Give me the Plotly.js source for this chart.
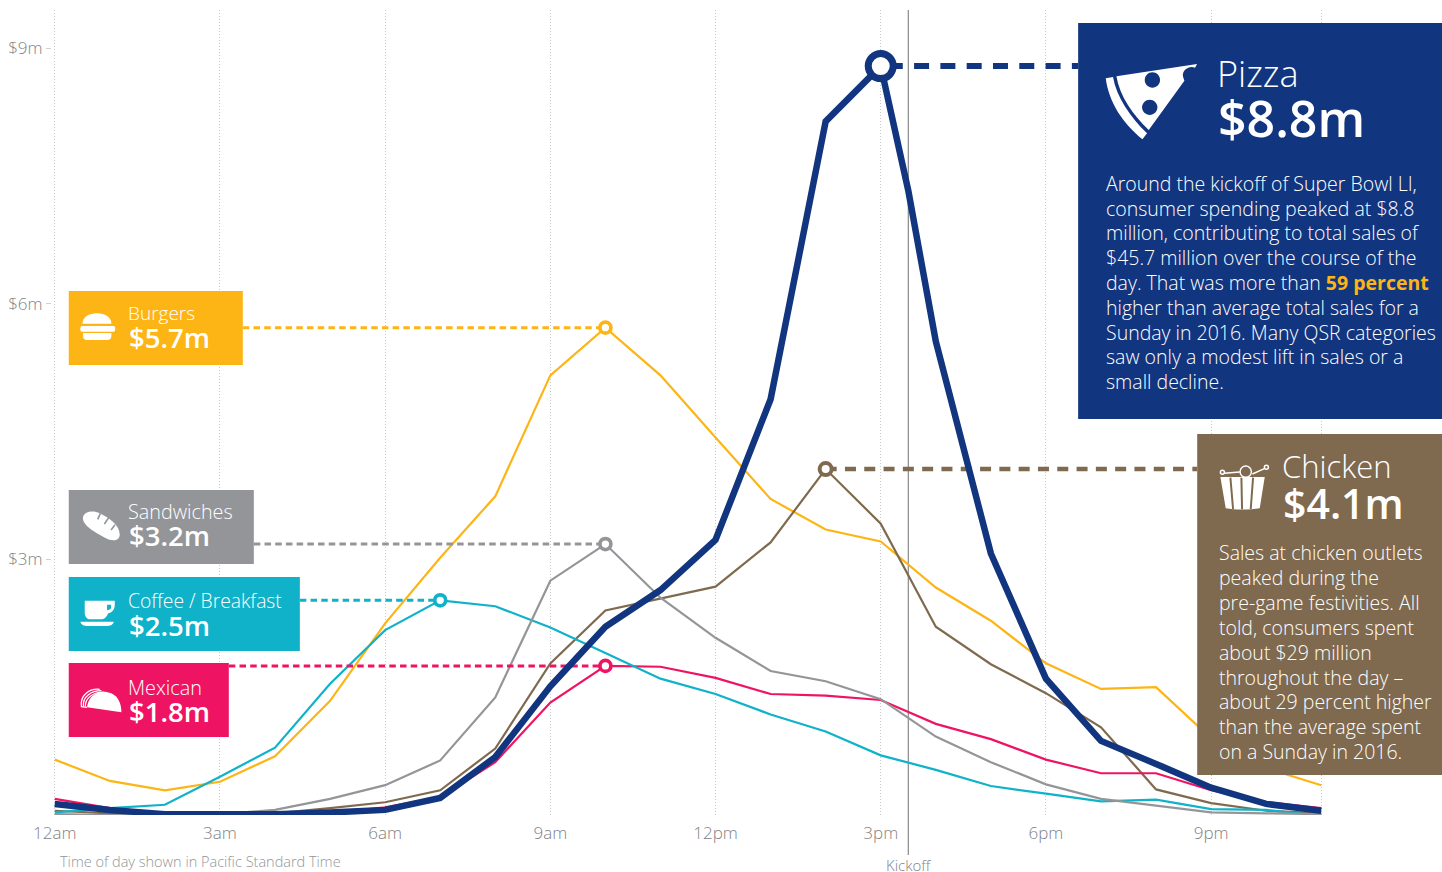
<!DOCTYPE html>
<html><head><meta charset="utf-8"><script src="https://cdn.plot.ly/plotly-3.0.1.min.js"></script>
<style>html,body{margin:0;padding:0;background:#fff;overflow:hidden}#c{width:1442px;height:872px}</style></head>
<body><div id="c"></div><script>
const hours=[0,1,2,3,4,5,6,7,8,9,10,11,12,13,14,15,16,17,18,19,20,21,22,23];
const burgers=[0.65,0.40,0.29,0.39,0.69,1.34,2.25,3.02,3.74,5.16,5.72,5.16,4.43,3.71,3.35,3.21,2.67,2.28,1.78,1.48,1.50,0.90,0.55,0.35];
const coffee=[0.03,0.08,0.12,0.45,0.79,1.54,2.17,2.52,2.45,2.20,1.90,1.60,1.42,1.18,0.98,0.70,0.53,0.34,0.25,0.16,0.18,0.07,0.06,-0.01];
const sandwiches=[0.01,0,0,0.01,0.06,0.19,0.35,0.64,1.38,2.75,3.18,2.55,2.08,1.69,1.57,1.36,0.92,0.62,0.36,0.19,0.11,0.03,0.02,0.01];
const mexican=[0.19,0.08,0.02,0.01,0.01,0.02,0.09,0.21,0.62,1.32,1.75,1.74,1.61,1.42,1.40,1.35,1.07,0.89,0.65,0.49,0.49,0.29,0.15,0.08];
const chicken=[0.05,0.02,0.01,0.01,0.02,0.08,0.15,0.29,0.78,1.78,2.40,2.54,2.68,3.20,4.06,3.42,2.21,1.77,1.43,1.03,0.30,0.14,0.05,0.02];
const pizzaX=[0,1,2,3,4,5,6,7,8,9,10,11,12,13,14,15,15.5,16,17,18,19,20,21,22,23];
const pizza=[0.13,0.06,0.01,0.01,0.01,0.03,0.06,0.20,0.68,1.51,2.21,2.64,3.23,4.88,8.14,8.79,7.33,5.56,3.07,1.60,0.87,0.60,0.32,0.13,0.05];
const xTickVals=[0,3,6,9,12,15,18,21,23];
const xTickText=['12am','3am','6am','9am','12pm','3pm','6pm','9pm',''];
const yTickVals=[3,6,9];
const yTickText=['$3m','$6m','$9m'];
const pizzaLines=['Around the kickoff of Super Bowl LI,','consumer spending peaked at $8.8','million, contributing to total sales of','$45.7 million over the course of the','day. That was more than <b><span style="color:#fdb515">59 percent</span></b>','higher than average total sales for a','Sunday in 2016. Many QSR categories','saw only a modest lift in sales or a','small decline.'];
const chickenLines=['Sales at chicken outlets','peaked during the','pre-game festivities. All','told, consumers spent','about $29 million','throughout the day –','about 29 percent higher','than the average spent','on a Sunday in 2016.'];

const C={burgers:'#fdb515',coffee:'#10b2c9',sandwiches:'#939598',mexican:'#ef1463',chicken:'#7f6a4f',pizza:'#12357f'};
const F='"Open Sans"';
const HR=(1321-55)/23, PAD=0.05;
const L=55-PAD*HR,R=1321+PAD*HR,T=10,B=815;
const px=x=>(x-L)/(R-L), py=y=>1-(y-T)/(B-T);
const hx=x=>(x-55)/HR;

function line(x,y,color,w){return {x,y,mode:'lines',type:'scatter',cliponaxis:false,hoverinfo:'skip',showlegend:false,line:{color,width:w,shape:'linear'}};}
function leader(xEnd,xPeak,val,color,w,dash){const t=line([xEnd,xPeak],[val,val],color,w);t.line.dash=dash;return t;}
function peak(x,y,color,size,w){return {x:[x],y:[y],mode:'markers',type:'scatter',cliponaxis:false,hoverinfo:'skip',showlegend:false,marker:{color:'#fff',size,line:{color,width:w}}};}

const smallDash='6.5px,4.2px';
const traces=[
 line(hours,burgers,C.burgers,2.2),
 line(hours,chicken,C.chicken,2.2),
 line(hours,mexican,C.mexican,2.2),
 line(hours,coffee,C.coffee,2.2),
 line(hours,sandwiches,C.sandwiches,2.2),
 leader(hx(243),10,5.72,C.burgers,3,smallDash),
 leader(hx(254),10,3.18,C.sandwiches,3,smallDash),
 leader(hx(300),7,2.52,C.coffee,3,smallDash),
 leader(hx(229),10,1.75,C.mexican,3,smallDash),
 leader(14,hx(1197),4.06,C.chicken,4.5,'11px,8.3px'),
 leader(hx(887.7),hx(1078),8.79,C.pizza,6,'15px,11.3px'),
 line(pizzaX,pizza,C.pizza,6.5),
 peak(10,5.72,C.burgers,11,3.7),
 peak(10,3.18,C.sandwiches,11,3.7),
 peak(7,2.52,C.coffee,11,3.7),
 peak(10,1.75,C.mexican,11,3.7),
 peak(14,4.06,C.chicken,12,4),
 peak(15,8.79,C.pizza,25,7)
];

function rect(x0,y0,x1,y1,color){return {type:'rect',xref:'paper',yref:'paper',x0:px(x0),x1:px(x1),y0:py(y1),y1:py(y0),fillcolor:color,line:{width:0},layer:'above'};}
// icon outlines are traced on a 3x grid with origin (ox,oy) on the page
function icon(ox,oy,d,fill,stroke,sw){
 const path=d.replace(/(-?[\d.]+)[ ,](-?[\d.]+)/g,(m,a,b)=>(ox+a/3).toFixed(2)+','+(-(oy+b/3)).toFixed(2));
 return {type:'path',xref:'paper',yref:'paper',xsizemode:'pixel',ysizemode:'pixel',xanchor:px(0),yanchor:py(0),path,fillcolor:fill||'rgba(0,0,0,0)',line:stroke?{color:stroke,width:sw||1.5}:{width:0},layer:'above'};
}
function circ(cx,cy,r){const k=r*0.5523;return `M${cx-r} ${cy} C${cx-r} ${cy+k} ${cx-k} ${cy+r} ${cx} ${cy+r} C${cx+k} ${cy+r} ${cx+r} ${cy+k} ${cx+r} ${cy} C${cx+r} ${cy-k} ${cx+k} ${cy-r} ${cx} ${cy-r} C${cx-k} ${cy-r} ${cx-r} ${cy-k} ${cx-r} ${cy} Z`;}
const W='#fff';
const shapes=[
 {type:'line',xref:'x',yref:'paper',x0:15.5,x1:15.5,y0:py(855),y1:1,line:{color:'#707070',width:1},layer:'below'},
 rect(1078,23,1442,419,C.pizza),
 rect(1197,434,1442,775,C.chicken),
 rect(69,291,243,365,C.burgers),
 rect(69,490,254,564,C.sandwiches),
 rect(69,577,300,651,C.coffee),
 rect(69,663,229,737,C.mexican),
 // burger
 icon(0,280,'M248 131 L335 131 C335 112 315 100 292 100 C268 100 248 112 248 131 Z',W),
 icon(0,280,'M246 138 L342 138 C348 138 348 155 342 155 L246 155 C240 155 240 138 246 138 Z',W),
 icon(0,280,'M250 159 L335 159 L335 168 C335 176 330 180 322 180 L262 180 C254 180 250 176 250 168 Z',W),
 // bread
 icon(0,480,'M250 110 C255 95 280 90 300 100 C330 115 360 135 360 165 C358 185 335 185 310 170 C285 155 245 135 250 110 Z',W),
 icon(0,480,'M302 100 L294 118',null,C.sandwiches,1.6),
 icon(0,480,'M326 114 L314 132',null,C.sandwiches,1.6),
 icon(0,480,'M346 134 L334 150',null,C.sandwiches,1.6),
 // cup
 Object.assign(icon(0,480,'M255 362 L345 362 C346 380 345 395 325 400 C322 410 315 418 305 418 L272 418 C262 418 255 410 255 398 Z M322 374 L334 374 L334 384 C332 388 328 390 322 391 Z',W),{fillrule:'evenodd'}),
 icon(0,480,'M242 425 L342 425 C340 435 330 438 320 438 L264 438 C254 438 244 435 242 425 Z',W),
 // taco
 icon(0,480,'M262 682 C265 645 300 625 335 640 C355 650 365 670 365 697 Z',W),
 icon(0,480,'M262 682 L245 680 C240 645 270 625 300 628',null,W,1.2),
 icon(0,480,'M251 680 C247 650 275 632 305 632',null,W,1.2),
 icon(0,480,'M257 680 C255 655 280 636 312 636',null,W,1.2),
 // pizza
 icon(1070,20,'M108 175 L130 171 C140 230 180 290 232 340 L218 358 C160 310 118 250 108 175 Z',W),
 icon(1070,20,'M140 169 L382 132 L376 143 C360 135 335 150 340 170 L344 182 L237 330 C190 285 150 230 140 169 Z',W),
 icon(1070,20,circ(248,180,23),C.pizza),
 icon(1070,20,circ(240,262,23),C.pizza),
 // bucket
 icon(1190,430,'M92 141 L225 141 L210 235 C180 240 135 240 108 235 Z',W),
 icon(1190,430,'M122 143 L130 237',null,C.chicken,2),
 icon(1190,430,'M155 143 L157 238',null,C.chicken,2),
 icon(1190,430,'M190 143 L183 237',null,C.chicken,2),
 icon(1190,430,'M104 130 L150 126',null,W,1.5),
 icon(1190,430,circ(168,125,17),null,W,1.5),
 icon(1190,430,circ(98,127,6),null,W,1.5),
 icon(1190,430,'M188 132 L224 116',null,W,1.5),
 icon(1190,430,circ(230,112,6),null,W,1.5)
];

function txt(x,y,text,size,color,anchor,weight){return {xref:'paper',yref:'paper',x:px(x),y:py(y),text,showarrow:false,xanchor:anchor||'left',yanchor:'middle',align:'left',font:{family:F,size,color,weight:weight||300}};}
const anns=[
 txt(58.5,861.5,'Time of day shown in Pacific Standard Time',14.5,'#939598','left',300),
 txt(908,865,'Kickoff',15,'#808285','center',300),
 txt(126,313,'Burgers',19,W),txt(127,337,'$5.7m',27.5,W,'left',600),
 txt(126,511,'Sandwiches',19.8,W),txt(127,535.5,'$3.2m',27.5,W,'left',600),
 txt(126,600,'Coffee / Breakfast',19.3,W),txt(127,625.5,'$2.5m',27.5,W,'left',600),
 txt(126,687,'Mexican',19.8,W),txt(127,711.5,'$1.8m',27.5,W,'left',600),
 txt(1215,73,'Pizza',36,W),txt(1216,118,'$8.8m',50,W,'left',600),
 txt(1280,466,'Chicken',31,W),txt(1281,503,'$4.1m',41,W,'left',600)
];
pizzaLines.forEach((t,i)=>anns.push(txt(1104,183.5+i*24.75,t,19.5,W)));
chickenLines.forEach((t,i)=>anns.push(txt(1217,552.5+i*24.9,t,19.5,W)));

const layout={width:1442,height:872,autosize:false,paper_bgcolor:'#fff',plot_bgcolor:'#fff',showlegend:false,
 margin:{l:L,r:1442-R,t:T,b:872-B,pad:0},
 xaxis:{range:[-PAD,23+PAD],tickvals:xTickVals,ticktext:xTickText,showgrid:true,griddash:'1px,2px',gridcolor:'#c8c8c8',gridwidth:1,zeroline:false,showline:false,ticks:'',ticklen:0,tickangle:0,ticklabelstandoff:6,tickfont:{family:F,size:17,color:'#808285',weight:300},fixedrange:true},
 yaxis:{range:[0,(B-T)/85.2],tickvals:yTickVals,ticktext:yTickText,showgrid:false,zeroline:false,showline:false,ticks:'outside',ticklen:5,tickcolor:'#d0d0d0',tickwidth:1,tickfont:{family:F,size:17,color:'#808285',weight:300},fixedrange:true},
 shapes,annotations:anns};
Plotly.newPlot('c',traces,layout,{displayModeBar:false,staticPlot:true});
</script></body></html>
